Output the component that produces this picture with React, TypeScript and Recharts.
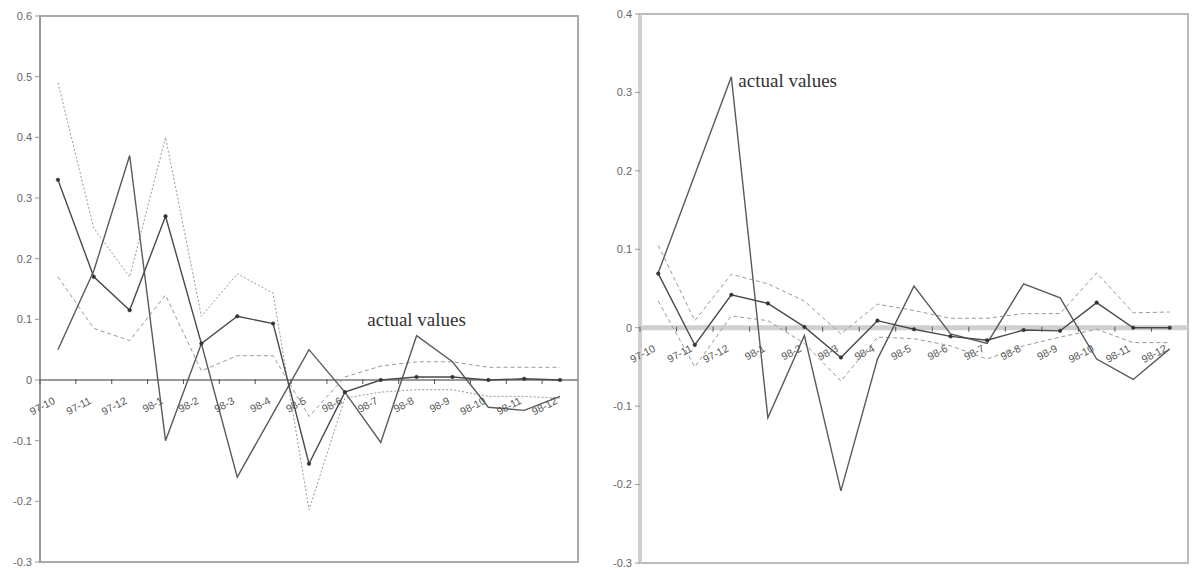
import React from "react";
import { LineChart, Line, XAxis, YAxis, ReferenceLine, ReferenceArea, ReferenceDot } from "recharts";

const categories = ["97-10", "97-11", "97-12", "98-1", "98-2", "98-3", "98-4", "98-5", "98-6", "98-7", "98-8", "98-9", "98-10", "98-11", "98-12"];

// left panel
const leftActual = [0.05, 0.18, 0.37, -0.1, 0.06, -0.16, -0.055, 0.05, -0.02, -0.103, 0.073, 0.03, -0.045, -0.05, -0.027];
const leftForecast = [0.33, 0.17, 0.115, 0.27, 0.06, 0.105, 0.093, -0.138, -0.02, 0, 0.005, 0.005, 0, 0.002, 0];
const leftBandA = [0.49, 0.25, 0.17, 0.4, 0.105, 0.175, 0.143, -0.214, -0.03, -0.02, -0.016, -0.016, -0.027, -0.027, -0.03];
const leftBandB = [0.17, 0.085, 0.065, 0.14, 0.015, 0.04, 0.04, -0.06, 0.005, 0.023, 0.03, 0.03, 0.021, 0.021, 0.021];
const leftTicks = [-0.3, -0.2, -0.1, 0, 0.1, 0.2, 0.3, 0.4, 0.5, 0.6];

// right panel
const rightActual = [0.07, 0.195, 0.32, -0.115, -0.01, -0.208, -0.04, 0.053, -0.008, -0.02, 0.056, 0.038, -0.04, -0.066, -0.027];
const rightForecast = [0.069, -0.022, 0.042, 0.031, 0.001, -0.038, 0.009, -0.002, -0.011, -0.016, -0.003, -0.004, 0.032, 0, 0];
const rightUpper = [0.105, 0.009, 0.068, 0.056, 0.034, -0.008, 0.03, 0.022, 0.012, 0.012, 0.018, 0.018, 0.07, 0.019, 0.02];
const rightLower = [0.034, -0.05, 0.015, 0.009, -0.02, -0.068, -0.012, -0.014, -0.023, -0.04, -0.023, -0.012, -0.002, -0.019, -0.019];
const rightTicks = [-0.3, -0.2, -0.1, 0, 0.1, 0.2, 0.3, 0.4];

const sans = "Liberation Sans, Arial, sans-serif";
const serif = "Liberation Serif, Times New Roman, serif";

const fmt = (v: number) => String(Math.round(v * 10) / 10);

const CatTick = (props: any) => {
  const { x, payload, zeroY, band, tickColor } = props;
  const ax = x - 2;
  const ay = zeroY + 23;
  return (
    <g>
      <line x1={x - band / 2} x2={x - band / 2} y1={zeroY - 1} y2={zeroY + 4} stroke={tickColor} strokeWidth={1} />
      <text x={ax} y={ay} transform={`rotate(-28 ${ax} ${ay})`} textAnchor="end" fontSize={10.5} fill="#555" fontFamily={sans}>
        {payload.value}
      </text>
    </g>
  );
};

type PanelProps = {
  data: any[];
  width: number;
  height: number;
  margin: { top: number; right: number; bottom: number; left: number };
  yWidth: number;
  ticks: number[];
  bands: { key: string; dash: string }[];
  zeroStroke: string;
  zeroWidth: number;
  axisStroke: string;
  axisWidth: number;
  frameStroke: string;
  note: React.ReactNode;
};

const Panel = (p: PanelProps) => {
  const dmin = p.ticks[0];
  const dmax = p.ticks[p.ticks.length - 1];
  const xH = 1;
  const plotH = p.height - p.margin.top - p.margin.bottom - xH;
  const plotW = p.width - p.margin.left - p.margin.right - p.yWidth;
  const zeroY = p.margin.top + (dmax / (dmax - dmin)) * plotH;
  const band = plotW / categories.length;
  return (
    <LineChart width={p.width} height={p.height} data={p.data} margin={p.margin}>
      <ReferenceArea y1={dmin} y2={dmax} fill="none" stroke={p.frameStroke} strokeWidth={2} ifOverflow="visible" />
      <ReferenceLine y={0} stroke={p.zeroStroke} strokeWidth={p.zeroWidth} />
      <XAxis
        dataKey="cat"
        scale="band"
        height={xH}
        interval={0}
        axisLine={false}
        tickLine={false}
        tick={(t: any) => <CatTick {...t} zeroY={zeroY} band={band} tickColor="#555" />}
      />
      <YAxis
        width={p.yWidth}
        domain={[dmin, dmax]}
        ticks={p.ticks}
        tickFormatter={fmt}
        tickSize={5}
        tickMargin={3}
        tick={{ fontSize: 11, fill: "#666", fontFamily: sans }}
        axisLine={{ stroke: p.axisStroke, strokeWidth: p.axisWidth }}
        tickLine={{ stroke: "#999" }}
      />
      {p.bands.map((b) => (
        <Line key={b.key} type="linear" dataKey={b.key} stroke="#999" strokeWidth={1} strokeDasharray={b.dash} dot={false} isAnimationActive={false} />
      ))}
      <Line type="linear" dataKey="actual" stroke="#5a5a5a" strokeWidth={1.4} dot={false} isAnimationActive={false} />
      <Line
        type="linear"
        dataKey="forecast"
        stroke="#4a4a4a"
        strokeWidth={1.4}
        dot={{ r: 1.8, fill: "#333", stroke: "#333", strokeWidth: 0.5 }}
        isAnimationActive={false}
      />
      {p.note}
    </LineChart>
  );
};

export default function App() {
  const leftData = categories.map((c, i) => ({
    cat: c,
    actual: leftActual[i],
    forecast: leftForecast[i],
    bandA: leftBandA[i],
    bandB: leftBandB[i],
  }));
  const rightData = categories.map((c, i) => ({
    cat: c,
    actual: rightActual[i],
    forecast: rightForecast[i],
    upper: rightUpper[i],
    lower: rightLower[i],
  }));

  const noteStyle = { fontSize: 19, fill: "#333", fontFamily: serif };

  return (
    <div style={{ position: "absolute", left: 0, top: 0, width: 1196, height: 572, background: "#fff" }}>
      <div style={{ position: "absolute", left: 0, top: 0 }}>
        <Panel
          data={leftData}
          width={590}
          height={572}
          margin={{ top: 16, right: 12, bottom: 9, left: 0 }}
          yWidth={40}
          ticks={leftTicks}
          bands={[
            { key: "bandA", dash: "2 2" },
            { key: "bandB", dash: "4 3" },
          ]}
          zeroStroke="#777"
          zeroWidth={1.5}
          axisStroke="#999"
          axisWidth={2}
          frameStroke="#aaa"
          note={
            <ReferenceDot
              x="98-8"
              y={0.1}
              r={0}
              fill="none"
              stroke="none"
              label={{ value: "actual values", position: "center", ...noteStyle }}
            />
          }
        />
      </div>
      <div style={{ position: "absolute", left: 598, top: 0 }}>
        <Panel
          data={rightData}
          width={598}
          height={572}
          margin={{ top: 14, right: 8, bottom: 8, left: 0 }}
          yWidth={42}
          ticks={rightTicks}
          bands={[
            { key: "upper", dash: "4 3" },
            { key: "lower", dash: "4 3" },
          ]}
          zeroStroke="#cfcfcf"
          zeroWidth={5}
          axisStroke="#cfcfcf"
          axisWidth={4}
          frameStroke="#bbb"
          note={
            <ReferenceDot
              x="97-12"
              y={0.315}
              r={0}
              fill="none"
              stroke="none"
              label={{ value: "actual values", position: "right", offset: 7, ...noteStyle }}
            />
          }
        />
      </div>
    </div>
  );
}
